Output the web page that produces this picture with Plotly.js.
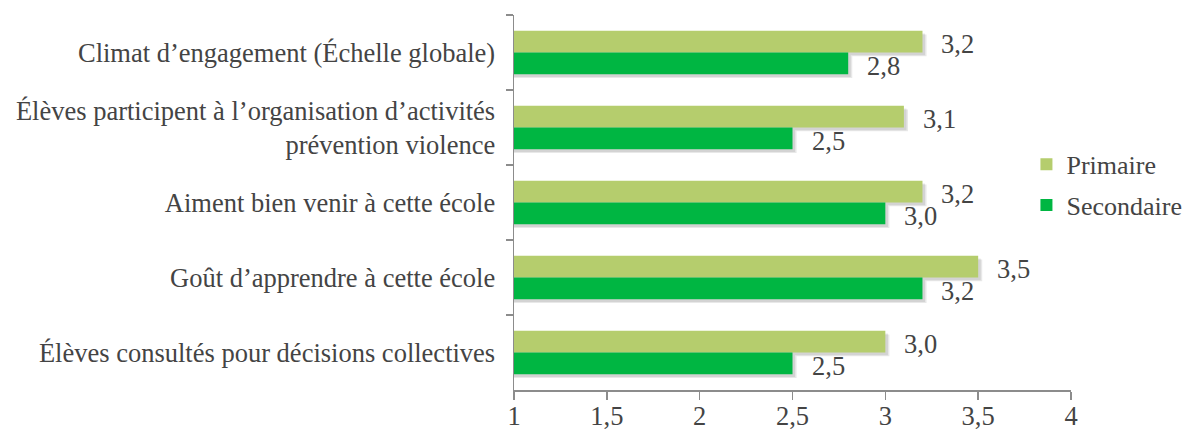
<!DOCTYPE html>
<html>
<head>
<meta charset="utf-8">
<script src="https://cdn.plot.ly/plotly-3.0.1.min.js"></script>
<style>
html,body{margin:0;padding:0;background:#fff;}
#chart{width:1199px;height:439px;}
</style>
</head>
<body>
<div id="chart"></div>
<script>
const categories = [
  "Climat d’engagement (Échelle globale)",
  "Élèves participent à l’organisation d’activités<br>prévention violence",
  "Aiment bien venir à cette école",
  "Goût d’apprendre à cette école",
  "Élèves consultés pour décisions collectives"
];
const primaire = [3.2, 3.1, 3.2, 3.5, 3.0];
const secondaire = [2.8, 2.5, 3.0, 3.2, 2.5];
const xTicks = [1, 1.5, 2, 2.5, 3, 3.5, 4];

const FONT = "Liberation Serif";
const FS = 26.5;
const cPrim = "#b5cd6d";
const cSec = "#00b642";
const AXIS_MIN = 1;
const BARGAP = 0.42;

const traces = [
  {type: "bar", orientation: "h", name: "Primaire", y: categories, x: primaire.map(v => v - AXIS_MIN), base: AXIS_MIN,
   marker: {color: cPrim}, hoverinfo: "skip", legendgroup: "p"},
  {type: "bar", orientation: "h", name: "Secondaire", y: categories, x: secondaire.map(v => v - AXIS_MIN), base: AXIS_MIN,
   marker: {color: cSec}, hoverinfo: "skip", legendgroup: "s"}
];

const fmt = v => v.toFixed(1).replace(".", ",");
const annotations = [];
categories.forEach((c, i) => {
  annotations.push({x: primaire[i], y: c, xref: "x", yref: "y", text: fmt(primaire[i]),
    showarrow: false, xanchor: "left", xshift: 17, yshift: 9, font: {family: FONT, size: FS}});
  annotations.push({x: secondaire[i], y: c, xref: "x", yref: "y", text: fmt(secondaire[i]),
    showarrow: false, xanchor: "left", xshift: 17, yshift: -13, font: {family: FONT, size: FS}});
});

// soft drop shadows under bars, derived from the data
const half = (1 - BARGAP) / 2;
const shapes = [];
[primaire, secondaire].forEach((series, k) => {
  series.forEach((v, i) => {
    const y0 = i - half + k * half;
    const y1 = y0 + half;
    [[0.05, 0.022, 0.09], [0.035, 0.014, 0.09]].forEach(([dy, dx, op]) => {
      shapes.push({type: "rect", xref: "x", yref: "y", layer: "below", line: {width: 0},
        fillcolor: "rgba(0,0,0," + op + ")", x0: AXIS_MIN, x1: v + dx, y0: y0 + dy, y1: y1 + dy});
    });
  });
});

const layout = {
  width: 1199, height: 439,
  margin: {l: 514, r: 124, t: 15, b: 49},
  paper_bgcolor: "#fff", plot_bgcolor: "#fff",
  font: {family: FONT, size: FS},
  barmode: "group",
  bargap: BARGAP,
  bargroupgap: 0,
  xaxis: {range: [1, 4], tickvals: xTicks, ticktext: xTicks.map(v => String(v).replace(".", ",")),
    showgrid: false, zeroline: false, showline: true, linecolor: "#8c8c8c", linewidth: 1.5,
    ticks: "outside", ticklen: 8, tickcolor: "#8c8c8c", tickwidth: 1.5, ticklabelstandoff: -6,
    tickfont: {family: FONT, size: FS}},
  yaxis: {autorange: "reversed", type: "category", showgrid: false, zeroline: false, showline: true,
    linecolor: "#8c8c8c", linewidth: 1.5, ticks: "outside", tickson: "boundaries", ticklen: 7,
    tickcolor: "#8c8c8c", tickwidth: 1.5, ticklabelstandoff: 12,
    tickfont: {family: FONT, size: FS}},
  legend: {x: 0.92, xanchor: "left", y: 0.547, yanchor: "middle", font: {family: FONT, size: 26},
    traceorder: "grouped", tracegroupgap: 4, bgcolor: "rgba(0,0,0,0)", borderwidth: 0},
  annotations: annotations,
  shapes: shapes,
  showlegend: true
};

Plotly.newPlot("chart", traces, layout, {displayModeBar: false, staticPlot: true});
</script>
</body>
</html>
